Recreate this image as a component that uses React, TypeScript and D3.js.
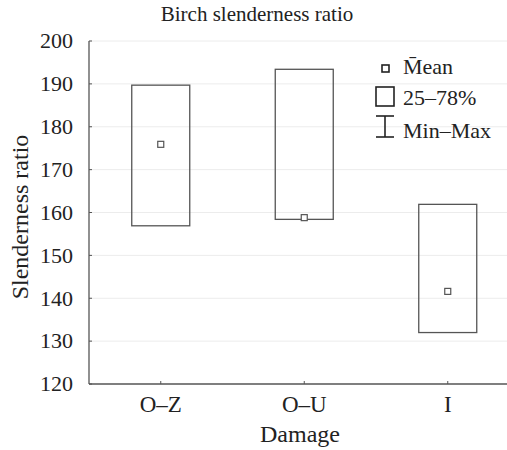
import React from 'react';
import * as d3 from 'd3';

// data
const categories = ['O–Z', 'O–U', 'I'];
const q25 = [156.9, 158.4, 132.0];
const q78 = [189.7, 193.4, 161.9];
const means = [175.9, 158.8, 141.6];
const yTicks = [120, 130, 140, 150, 160, 170, 180, 190, 200];

const W = 507;
const H = 450;
const FONT = 'Liberation Serif, DejaVu Serif, serif';

export default function App() {
  const left = 89;
  const bottom = 384;
  const top = 41;

  const x = d3.scaleBand().domain(categories).range([left, left + 3 * 143.5]);
  const y = d3.scaleLinear().domain([120, 200]).range([bottom, top]);
  const boxW = 58;

  return (
    <svg width={W} height={H} style={{ position: 'absolute', left: 0, top: 0, background: '#fff' }}
      fontFamily={FONT}>
      <text x={257} y={21} textAnchor="middle" fontSize={21} fill="#222">Birch slenderness ratio</text>

      {/* grid */}
      {yTicks.slice(1).map(t => (
        <line key={'g' + t} x1={left} x2={W} y1={y(t)} y2={y(t)} stroke="#ececec" strokeWidth={1} />
      ))}

      {/* axes */}
      <line x1={left} x2={left} y1={top} y2={bottom} stroke="#555" strokeWidth={1.3} />
      <line x1={left} x2={W} y1={bottom} y2={bottom} stroke="#555" strokeWidth={1.3} />
      {yTicks.map(t => (
        <g key={'t' + t}>
          <line x1={left} x2={left + 3} y1={y(t)} y2={y(t)} stroke="#555" strokeWidth={1} />
          <text x={73} y={y(t)} dy="0.33em" textAnchor="end" fontSize={22} fill="#222">{t}</text>
        </g>
      ))}
      {categories.map(c => {
        const cx = x(c)! + x.bandwidth() / 2;
        return (
          <g key={'x' + c}>
            <line x1={cx} x2={cx} y1={bottom} y2={bottom - 3} stroke="#555" strokeWidth={1} />
            <text x={cx} y={412} textAnchor="middle" fontSize={23} fill="#222">{c}</text>
          </g>
        );
      })}
      <text x={300} y={442} textAnchor="middle" fontSize={24} fill="#222">Damage</text>
      <text transform={`translate(28, 217) rotate(-90)`} textAnchor="middle"
        fontSize={24} fill="#222">Slenderness ratio</text>

      {/* boxes */}
      {categories.map((c, i) => {
        const cx = x(c)! + x.bandwidth() / 2;
        return (
          <g key={'b' + c}>
            <rect x={cx - boxW / 2} y={y(q78[i])} width={boxW} height={y(q25[i]) - y(q78[i])}
              fill="none" stroke="#555" strokeWidth={1.3} />
            <rect x={cx - 3} y={y(means[i]) - 3} width={6} height={6} fill="#fff" stroke="#555" strokeWidth={1.2} />
          </g>
        );
      })}

      {/* legend */}
      <g fill="#222" fontSize={22}>
        <rect x={382} y={65} width={7} height={7} fill="#fff" stroke="#222" strokeWidth={1.6} />
        <text x={403} y={74}>M̄ean</text>
        <rect x={376} y={87} width={18} height={19} fill="none" stroke="#222" strokeWidth={1.6} />
        <text x={403} y={105}>25–78%</text>
        <line x1={385} x2={385} y1={116} y2={137} stroke="#222" strokeWidth={1.6} />
        <line x1={376} x2={394} y1={116} y2={116} stroke="#222" strokeWidth={1.6} />
        <line x1={376} x2={394} y1={137} y2={137} stroke="#222" strokeWidth={1.6} />
        <text x={403} y={138}>Min–Max</text>
      </g>
    </svg>
  );
}
